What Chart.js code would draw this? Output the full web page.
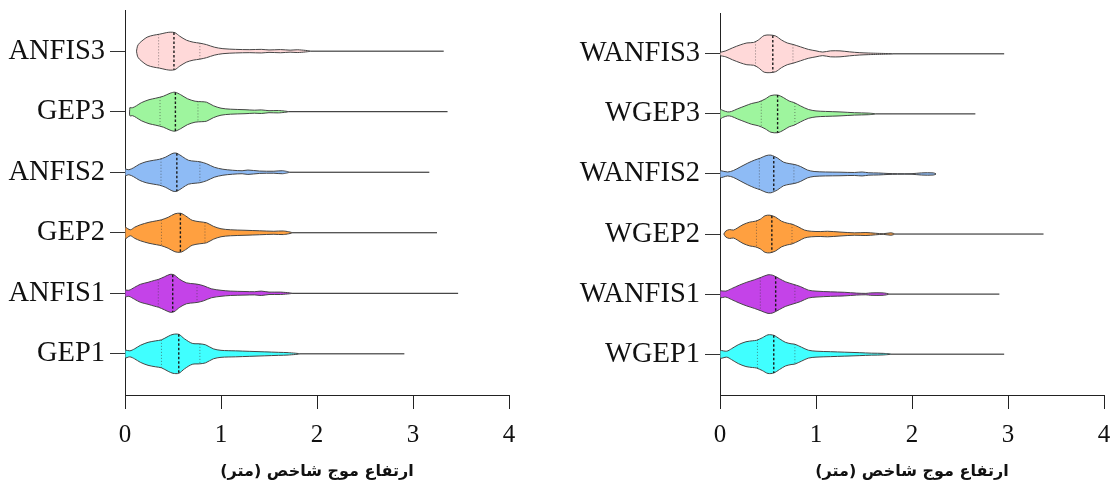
<!DOCTYPE html>
<html>
<head>
<meta charset="utf-8">
<script src="https://cdn.jsdelivr.net/npm/chart.js@4.4.1/dist/chart.umd.min.js"></script>
<style>
  body { margin: 0; background: #fff; overflow: hidden; width: 1110px; height: 487px; position: relative; }
  #leftChart { position: absolute; left: 0; top: 0; }
  #rightChart { position: absolute; left: 555px; top: 0; }
</style>
</head>
<body>
<canvas id="leftChart" width="555" height="487"></canvas>
<canvas id="rightChart" width="560" height="487"></canvas>
<script>
const leftCategories = ['ANFIS3', 'GEP3', 'ANFIS2', 'GEP2', 'ANFIS1', 'GEP1'];
const rightCategories = ['WANFIS3', 'WGEP3', 'WANFIS2', 'WGEP2', 'WANFIS1', 'WGEP1'];
const xTicks = [0, 1, 2, 3, 4];
const axisTitle = 'ارتفاع موج شاخص (متر)';

// quartiles and whisker ends
const leftQ1 = [0.35, 0.365, 0.375, 0.38, 0.347, 0.38];
const leftMedian = [0.51, 0.525, 0.54, 0.577, 0.497, 0.56];
const leftQ3 = [0.78, 0.76, 0.78, 0.833, 0.75, 0.78];
const leftMax = [3.32, 3.36, 3.17, 3.25, 3.47, 2.91];
const rightQ1 = [0.37, 0.43, 0.41, 0.38, 0.42, 0.39];
const rightMedian = [0.55, 0.60, 0.56, 0.54, 0.58, 0.56];
const rightQ3 = [0.76, 0.78, 0.77, 0.75, 0.78, 0.78];
const rightMax = [2.96, 2.66, 2.24, 3.37, 2.91, 2.96];

// density profiles (value, relative density)
const anfis3X = [0.12, 0.13, 0.15, 0.23, 0.30, 0.36, 0.43, 0.47, 0.52, 0.57, 0.64, 0.71, 0.78, 0.85, 0.93, 1.02, 1.15, 1.30, 1.42, 1.50, 1.62, 1.72, 1.80, 1.93];
const anfis3D = [0, 5, 8, 14, 16, 17, 18.5, 19, 18.5, 15, 11, 9, 8, 6.5, 4, 2.5, 1.8, 1.5, 1.8, 1.2, 1.6, 1, 1.4, 0];
const gep3X = [0.05, 0.08, 0.12, 0.17, 0.25, 0.32, 0.40, 0.47, 0.52, 0.58, 0.65, 0.73, 0.80, 0.85, 0.92, 1.00, 1.10, 1.25, 1.35, 1.42, 1.50, 1.60, 1.70];
const gep3D = [4, 4, 6, 9, 12, 13.5, 15.5, 18.5, 19.5, 17, 13, 10.5, 10, 9.5, 6, 3.5, 2.5, 2, 1.5, 1.8, 1, 1.2, 0];
const anfis2X = [0.00, 0.04, 0.09, 0.15, 0.22, 0.30, 0.36, 0.42, 0.50, 0.54, 0.60, 0.66, 0.73, 0.78, 0.85, 0.93, 1.02, 1.12, 1.22, 1.28, 1.40, 1.55, 1.64, 1.71];
const anfis2D = [3.5, 2.5, 4.5, 8, 10.5, 12, 13, 15, 19, 19, 15.5, 12, 11, 10.5, 8.5, 5, 3, 2, 1.5, 2.2, 1.2, 1, 1.5, 0];
const gep2X = [0.00, 0.055, 0.10, 0.16, 0.25, 0.33, 0.38, 0.45, 0.52, 0.58, 0.63, 0.70, 0.78, 0.85, 0.92, 1.00, 1.10, 1.25, 1.40, 1.55, 1.65, 1.74];
const gep2D = [6, 3, 5.5, 8, 10.5, 12, 13, 15.5, 19, 19.5, 17, 12.5, 11, 10, 6.5, 4, 3, 2.5, 2, 1.5, 1.8, 0];
const anfis1X = [0.00, 0.04, 0.10, 0.16, 0.24, 0.31, 0.35, 0.41, 0.47, 0.51, 0.57, 0.64, 0.72, 0.76, 0.82, 0.90, 1.00, 1.10, 1.25, 1.35, 1.42, 1.50, 1.62, 1.74];
const anfis1D = [3.5, 3, 6, 9, 11, 13, 14, 16.5, 19, 18.5, 14, 10.5, 9.5, 9, 7.5, 4.5, 3, 2.2, 1.8, 1.6, 2.2, 1.2, 1.2, 0];
const gep1X = [0.00, 0.05, 0.10, 0.16, 0.24, 0.32, 0.38, 0.45, 0.50, 0.56, 0.62, 0.70, 0.78, 0.84, 0.92, 1.00, 1.15, 1.30, 1.45, 1.60, 1.70, 1.82];
const gep1D = [4, 3, 5, 8.5, 11.5, 13, 14, 17.5, 19.5, 19.5, 15, 10.5, 10, 9, 5, 3.5, 3, 2.5, 2, 1.5, 1.2, 0];

const wanfis3X = [0.00, 0.06, 0.13, 0.21, 0.28, 0.35, 0.40, 0.46, 0.52, 0.58, 0.64, 0.70, 0.76, 0.84, 0.92, 1.00, 1.07, 1.15, 1.25, 1.35, 1.45, 1.55, 1.80];
const wanfis3D = [1.5, 3, 6, 9, 11, 11.5, 14, 18.5, 19, 18, 14, 11, 9.5, 7, 4.5, 3, 1.8, 3, 3, 2, 1.2, 0.8, 0];
const wgep3X = [0.00, 0.03, 0.08, 0.12, 0.18, 0.26, 0.33, 0.40, 0.47, 0.53, 0.60, 0.66, 0.72, 0.77, 0.84, 0.92, 1.00, 1.10, 1.25, 1.40, 1.55, 1.62];
const wgep3D = [5, 3.5, 2, 2.5, 5, 8, 10.5, 12, 15, 18.5, 19, 16.5, 13, 11.5, 8, 4.5, 3, 2.5, 2, 1.2, 0.8, 0];
const wanfis2X = [0.00, 0.08, 0.14, 0.21, 0.29, 0.36, 0.42, 0.48, 0.53, 0.60, 0.66, 0.72, 0.78, 0.84, 0.91, 0.98, 1.10, 1.25, 1.40, 1.48, 1.55, 1.65, 1.75, 1.85, 2.00, 2.10, 2.22, 2.25];
const wanfis2D = [3.5, 2, 3.5, 7, 11, 14, 16, 18.5, 19, 16, 12, 10.5, 9.5, 7.5, 4, 2.5, 2, 1.8, 1.5, 2, 1.2, 1, 0.5, 0.3, 0.3, 1.1, 1.1, 0];
const wgep2X = [0.04, 0.06, 0.10, 0.14, 0.18, 0.24, 0.31, 0.37, 0.42, 0.47, 0.52, 0.58, 0.64, 0.70, 0.75, 0.82, 0.88, 0.95, 1.05, 1.12, 1.25, 1.40, 1.52, 1.62, 1.70, 1.78, 1.82];
const wgep2D = [0, 3, 4.5, 4, 6, 9.5, 12, 13, 15, 18.5, 19, 17, 13, 11, 10, 7, 4, 2.8, 2.5, 2.8, 2, 1.2, 1.5, 0.8, 0.3, 1.2, 0];
const wanfis1X = [0.00, 0.06, 0.12, 0.20, 0.28, 0.36, 0.43, 0.50, 0.55, 0.62, 0.68, 0.76, 0.84, 0.92, 1.00, 1.15, 1.30, 1.42, 1.52, 1.57, 1.70, 1.76];
const wanfis1D = [3.5, 3, 5.5, 9, 12, 14.5, 17, 19.5, 19, 15.5, 12.5, 10, 7.5, 4, 3, 2.3, 1.8, 1, 0.7, 1.2, 1.2, 0];
const wgep1X = [0.00, 0.07, 0.12, 0.19, 0.27, 0.34, 0.38, 0.44, 0.50, 0.56, 0.62, 0.68, 0.74, 0.78, 0.85, 0.92, 1.00, 1.15, 1.30, 1.45, 1.58, 1.70, 1.78];
const wgep1D = [4, 3, 5.5, 9.5, 12.5, 13.5, 14, 16.5, 19.5, 19, 15.5, 12, 10.5, 10, 7, 4, 3, 2.5, 2, 1.5, 1, 0.8, 0];

const fillColors = ['#ffd9d9', '#9ef59e', '#8ebbf5', '#ffa040', '#c443e8', '#40ffff'];
const densityPeak = 20;
const violinHalf = 0.33;

function densityAt(xs, ds, q) {
  for (let k = 1; k < xs.length; k++) {
    if (q <= xs[k]) {
      const t = (q - xs[k - 1]) / (xs[k] - xs[k - 1]);
      return ds[k - 1] + t * (ds[k] - ds[k - 1]);
    }
  }
  return 0;
}

function violinDatasets(cats, profiles, q1, med, q3, max) {
  const sets = [];
  cats.forEach((name, i) => {
    const [xs, ds] = profiles[i];
    const half = d => d / densityPeak * violinHalf;
    const upper = xs.map((x, k) => ({ x: x, y: i - half(ds[k]) }));
    let lower = xs.map((x, k) => ({ x: x, y: i + half(ds[k]) })).reverse();
    if (ds[ds.length - 1] === 0) lower = lower.slice(1);
    if (ds[0] === 0) lower = lower.slice(0, -1);
    const shape = upper.concat(lower, [upper[0]]);

    // whisker out to the largest value
    sets.push({
      data: [{ x: xs[xs.length - 1], y: i }, { x: max[i], y: i }],
      showLine: true, borderColor: '#1a1a1a', borderWidth: 1, pointRadius: 0, order: 3
    });
    sets.push({
      data: shape, showLine: true, fill: 'shape', tension: 0.3,
      backgroundColor: fillColors[i], borderColor: '#454545', borderWidth: 1,
      pointRadius: 0, order: 2
    });
    // quartile lines
    [[q1[i], [1, 2], 'rgba(60,60,60,0.6)', 1], [med[i], [2.5, 2], '#1a1a1a', 1.4], [q3[i], [1, 2], 'rgba(60,60,60,0.6)', 1]]
      .forEach(([q, dash, color, w]) => {
        const h = half(densityAt(xs, ds, q));
        sets.push({
          data: [{ x: q, y: i - h }, { x: q, y: i + h }],
          showLine: true, borderDash: dash, borderColor: color, borderWidth: w,
          pointRadius: 0, order: 1
        });
      });
  });
  return sets;
}

function makeChart(id, cats, profiles, q1, med, q3, max, yWidth, pad) {
  new Chart(document.getElementById(id), {
    type: 'scatter',
    data: { datasets: violinDatasets(cats, profiles, q1, med, q3, max) },
    options: {
      responsive: false,
      animation: false,
      events: [],
      layout: { padding: pad },
      plugins: { legend: { display: false }, tooltip: { enabled: false } },
      scales: {
        x: {
          type: 'linear', min: 0, max: 4,
          afterBuildTicks: s => { s.ticks = xTicks.map(v => ({ value: v })); },
          afterFit: s => { s.height = 92; s.paddingLeft = 0; s.paddingRight = 0; },
          ticks: { color: '#111', padding: 11, font: { family: 'Liberation Serif', size: 25 } },
          grid: { drawOnChartArea: false, tickLength: 14, color: '#222' },
          border: { color: '#222' },
          title: {
            display: true, text: '\u202B' + axisTitle + '\u202C', color: '#111',
            font: { family: 'DejaVu Sans', weight: 'bold', size: 16 },
            padding: { top: 0, bottom: 6 }
          }
        },
        y: {
          type: 'linear', reverse: true, min: -0.68, max: 5.68,
          afterBuildTicks: s => { s.ticks = cats.map((c, k) => ({ value: k })); },
          afterFit: s => { s.width = yWidth; s.paddingTop = 0; s.paddingBottom = 0; },
          ticks: {
            autoSkip: false, color: '#111', padding: 5,
            font: { family: 'Liberation Serif', size: 28.5 },
            callback: v => cats[v]
          },
          grid: { drawOnChartArea: false, tickLength: 15, color: '#333' },
          border: { color: '#222' }
        }
      }
    }
  });
}

makeChart('leftChart', leftCategories,
  [[anfis3X, anfis3D], [gep3X, gep3D], [anfis2X, anfis2D], [gep2X, gep2D], [anfis1X, anfis1D], [gep1X, gep1D]],
  leftQ1, leftMedian, leftQ3, leftMax, 125, { top: 10, right: 46, bottom: 0, left: 0 });

makeChart('rightChart', rightCategories,
  [[wanfis3X, wanfis3D], [wgep3X, wgep3D], [wanfis2X, wanfis2D], [wgep2X, wgep2D], [wanfis1X, wanfis1D], [wgep1X, wgep1D]],
  rightQ1, rightMedian, rightQ3, rightMax, 165, { top: 13, right: 11, bottom: 0, left: 0 });
</script>
</body>
</html>
